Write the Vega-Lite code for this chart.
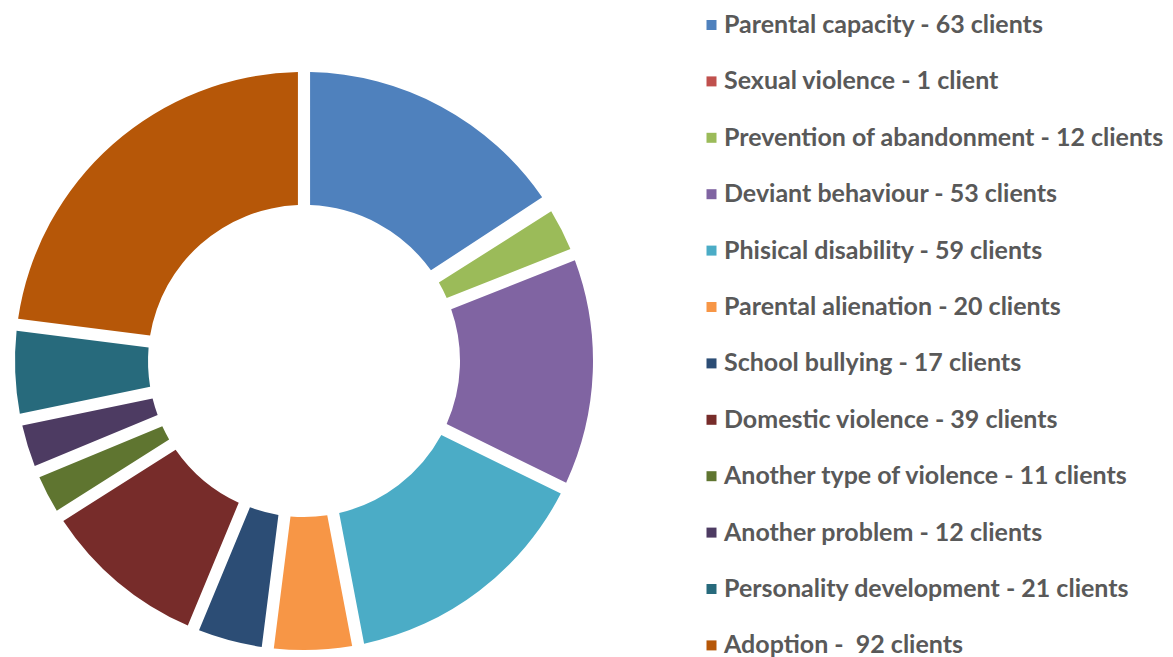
{
  "$schema": "https://vega.github.io/schema/vega-lite/v6.json",
  "autosize": {"type": "none"},
  "width": 608,
  "height": 592,
  "padding": {"left": 0, "top": 65, "right": 565, "bottom": 0},
  "background": "white",
  "data": {
    "values": [
      {"idx": 1, "label": "Parental capacity - 63 clients", "clients": 63},
      {"idx": 2, "label": "Sexual violence - 1 client", "clients": 1},
      {"idx": 3, "label": "Prevention of abandonment - 12 clients", "clients": 12},
      {"idx": 4, "label": "Deviant behaviour - 53 clients", "clients": 53},
      {"idx": 5, "label": "Phisical disability - 59 clients", "clients": 59},
      {"idx": 6, "label": "Parental alienation - 20 clients", "clients": 20},
      {"idx": 7, "label": "School bullying - 17 clients", "clients": 17},
      {"idx": 8, "label": "Domestic violence - 39 clients", "clients": 39},
      {"idx": 9, "label": "Another type of violence - 11 clients", "clients": 11},
      {"idx": 10, "label": "Another problem - 12 clients", "clients": 12},
      {"idx": 11, "label": "Personality development - 21 clients", "clients": 21},
      {"idx": 12, "label": "Adoption - \u00a092 clients", "clients": 92}
    ]
  },
  "mark": {"type": "arc", "innerRadius": 156, "outerRadius": 289, "padAngle": 0.037},
  "encoding": {
    "theta": {"field": "clients", "type": "quantitative", "stack": true},
    "order": {"field": "idx", "type": "quantitative"},
    "color": {
      "field": "label",
      "type": "nominal",
      "scale": {
        "domain": [
          "Parental capacity - 63 clients",
          "Sexual violence - 1 client",
          "Prevention of abandonment - 12 clients",
          "Deviant behaviour - 53 clients",
          "Phisical disability - 59 clients",
          "Parental alienation - 20 clients",
          "School bullying - 17 clients",
          "Domestic violence - 39 clients",
          "Another type of violence - 11 clients",
          "Another problem - 12 clients",
          "Personality development - 21 clients",
          "Adoption - \u00a092 clients"
        ],
        "range": ["#4F81BD", "#C0504D", "#9BBB59", "#8064A2", "#4BACC6", "#F79646", "#2C4D75", "#772C2A", "#5F7530", "#4D3B62", "#276A7C", "#B65708"]
      },
      "legend": {
        "title": null,
        "orient": "none",
        "legendX": 699,
        "legendY": -52.5,
        "symbolType": "square",
        "symbolSize": 100,
        "symbolStrokeWidth": 0,
        "labelFont": "Lato",
        "labelFontWeight": "bold",
        "labelFontSize": 25,
        "labelColor": "#595959",
        "labelOffset": 0,
        "labelLimit": 0,
        "rowPadding": 30.4
      }
    }
  },
  "config": {"view": {"stroke": null}}
}
